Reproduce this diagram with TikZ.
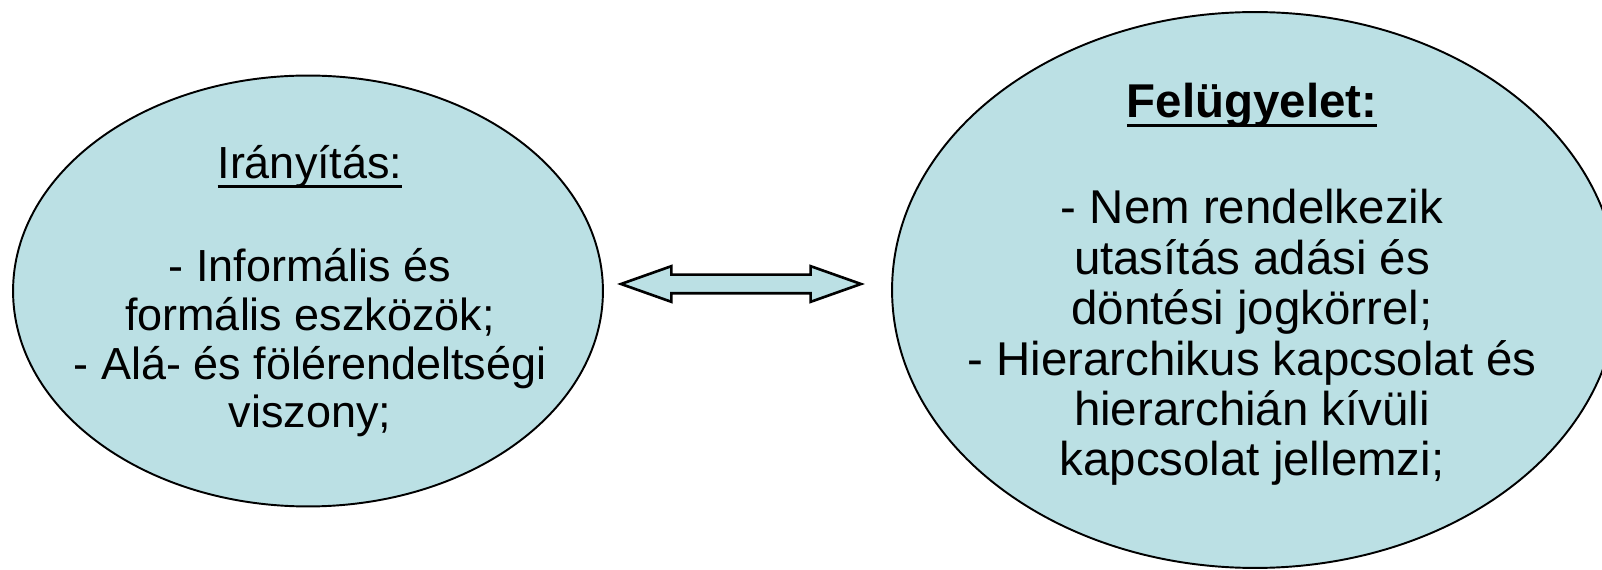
\documentclass[tikz,border=0pt]{standalone}
\usepackage{fontspec}
\setmainfont{Liberation Sans}
\usetikzlibrary{shapes.geometric,shapes.arrows}
\definecolor{blobfill}{RGB}{187,224,228}
\newsavebox\ulsave
\newcommand{\ulword}[1]{\sbox\ulsave{#1}\rlap{\rule[-0.2em]{\wd\ulsave}{0.065em}}\usebox\ulsave}

\begin{document}
\begin{tikzpicture}[x=0.02cm,y=-0.02cm,
  blob/.style={ellipse,draw,fill=blobfill,line width=1.1pt,inner sep=0pt},
  txt/.style={align=center,inner sep=0pt,anchor=base},
  dblarrow/.style={double arrow,draw,fill=blobfill,line width=1.5pt,
  minimum height=4.8cm,inner xsep=0pt,inner ysep=0.16cm,
  double arrow head extend=0.17cm,double arrow tip angle=39,
  double arrow head indent=0pt}]
  \useasboundingbox (0,0) rectangle (1602,570);

  \node[blob,minimum width=11.8cm,minimum height=8.62cm] (iranyitas) at (308,291) {};
  \node[blob,minimum width=14.52cm,minimum height=11.12cm] (felugyelet) at (1255,290) {};

  % texts sit over the ellipses, base = last line
  \node[txt,font=\fontsize{25.6}{27.8}\selectfont] (iranyitasText) at (310,428)
    {\ulword{Irányítás:}\\[1.08cm]
     - Informális és\\
     formális eszközök;\\
     - Alá- és fölérendeltségi\\
     viszony;};
  \node[txt,font=\fontsize{27}{28.7}\selectfont] (felugyeletText) at (1252,476)
    {\ulword{\bfseries Felügyelet:}\\[1.11cm]
     - Nem rendelkezik\\
     utasítás adási és\\
     döntési jogkörrel;\\
     - Hierarchikus kapcsolat és\\
     hierarchián kívüli\\
     kapcsolat jellemzi;};

  \node[dblarrow] (kapcs) at (741,284) {};
\end{tikzpicture}
\end{document}
